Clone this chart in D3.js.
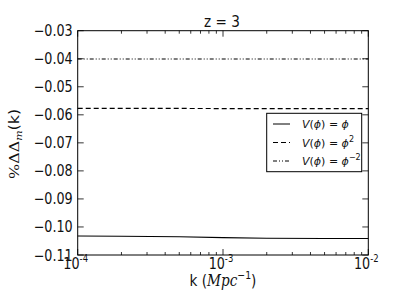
<!DOCTYPE html>
<html>
<head>
<meta charset="utf-8">
<script src="https://cdn.jsdelivr.net/npm/d3@7"></script>
<style>
  body { margin: 0; background: #fff; }
  text { font-family: "DejaVu Sans", sans-serif; fill: #111; }
  .math { font-family: "DejaVu Serif", "Liberation Serif", serif; font-style: italic; }
</style>
</head>
<body>
<svg id="chart" width="409" height="307"></svg>
<script>
  "use strict";
  // data
  var kValues = [1e-4, 2e-4, 5e-4, 1e-3, 2e-3, 5e-3, 1e-2];
  var linearVals = [-0.1032, -0.1033, -0.1035, -0.1038, -0.1040, -0.1041, -0.1041];
  var quadVals = [-0.0577, -0.0577, -0.0577, -0.0578, -0.0578, -0.0578, -0.0578];
  var invQuadVals = [-0.0401, -0.0401, -0.0401, -0.0401, -0.0401, -0.0401, -0.0401];
  var yTicks = [-0.03, -0.04, -0.05, -0.06, -0.07, -0.08, -0.09, -0.10, -0.11];
  var xTicks = [1e-4, 1e-3, 1e-2];
  var xExp = ["-4", "-3", "-2"];

  var series = [
    { vals: linearVals, dash: null, label: "\u03D5", sup: "" },
    { vals: quadVals, dash: "5,3", label: "\u03D5", sup: "2" },
    { vals: invQuadVals, dash: "4,2,1,2,1,2", label: "\u03D5", sup: "\u22122" }
  ];

  var pLeft = 77.7, pRight = 368.3, pTop = 30.7, pBottom = 255;
  var squash = 0.85; // the reference text is narrower than it is tall
  var svg = d3.select("#chart");

  var x = d3.scaleLog().domain([1e-4, 1e-2]).range([pLeft, pRight]);
  var y = d3.scaleLinear().domain([-0.11, -0.03]).range([pBottom, pTop]);

  function label(px, py) {
    return svg.append("text")
      .attr("transform", "translate(" + px + "," + py + ") scale(" + squash + ",1)");
  }

  // frame
  svg.append("rect")
    .attr("x", pLeft).attr("y", pTop)
    .attr("width", pRight - pLeft).attr("height", pBottom - pTop)
    .attr("fill", "none").attr("stroke", "#000").attr("stroke-width", 1);

  // ticks inside, all four sides
  var minor = [];
  [1e-4, 1e-3].forEach(function (d) {
    for (var i = 2; i < 10; i++) minor.push(d * i);
  });
  var tk = svg.append("g").attr("stroke", "#000").attr("stroke-width", 0.8);
  xTicks.forEach(function (d) {
    tk.append("line").attr("x1", x(d)).attr("x2", x(d)).attr("y1", pBottom).attr("y2", pBottom - 6);
    tk.append("line").attr("x1", x(d)).attr("x2", x(d)).attr("y1", pTop).attr("y2", pTop + 6);
  });
  minor.forEach(function (d) {
    tk.append("line").attr("x1", x(d)).attr("x2", x(d)).attr("y1", pBottom).attr("y2", pBottom - 3);
    tk.append("line").attr("x1", x(d)).attr("x2", x(d)).attr("y1", pTop).attr("y2", pTop + 3);
  });
  yTicks.forEach(function (d) {
    tk.append("line").attr("x1", pLeft).attr("x2", pLeft + 6).attr("y1", y(d)).attr("y2", y(d));
    tk.append("line").attr("x1", pRight).attr("x2", pRight - 6).attr("y1", y(d)).attr("y2", y(d));
  });

  // y tick labels
  yTicks.forEach(function (d) {
    label(pLeft - 5, y(d) + 5.5)
      .attr("text-anchor", "end")
      .attr("font-size", 15)
      .text("\u2212" + Math.abs(d).toFixed(2));
  });

  // x tick labels 10^n
  xTicks.forEach(function (d, i) {
    var t = label(x(d) - 2, 268.5)
      .attr("text-anchor", "middle")
      .attr("font-family", "DejaVu Serif")
      .attr("font-size", 15);
    t.append("tspan").text("10");
    t.append("tspan").attr("dy", -7).attr("font-size", 10).text(xExp[i]);
  });

  // lines
  var line = d3.line()
    .x(function (d, i) { return x(kValues[i]); })
    .y(function (d) { return y(d); });
  series.forEach(function (s) {
    svg.append("path")
      .datum(s.vals)
      .attr("d", line)
      .attr("fill", "none")
      .attr("stroke", "#000")
      .attr("stroke-width", 1.1)
      .attr("stroke-dasharray", s.dash);
  });

  // title
  label(222, 27.3).attr("text-anchor", "middle").attr("font-size", 16).text("z = 3");

  // x label
  var xl = label(223, 285.5).attr("text-anchor", "middle").attr("font-size", 16);
  xl.append("tspan").text("k (");
  xl.append("tspan").attr("class", "math").text("Mpc");
  xl.append("tspan").attr("dy", -7).attr("font-size", 11).text("\u22121");
  xl.append("tspan").attr("dy", 7).text(")");

  // y label
  var yl = svg.append("text")
    .attr("transform", "translate(19," + ((pTop + pBottom) / 2 + 1) + ") rotate(-90) scale(1," + squash + ")")
    .attr("text-anchor", "middle").attr("font-size", 16).attr("fill", "#222");
  yl.append("tspan").attr("font-family", "DejaVu Serif").text("%\u0394\u0394");
  yl.append("tspan").attr("class", "math").attr("dy", 3).attr("font-size", 11).text("m");
  yl.append("tspan").attr("dy", -3).text("(k)");

  // legend
  var lg = svg.append("g");
  lg.append("rect").attr("x", 266.7).attr("y", 113.3).attr("width", 95).attr("height", 58.4)
    .attr("fill", "#fff").attr("stroke", "#000").attr("stroke-width", 1);
  series.forEach(function (s, i) {
    var yy = 124 + i * 18.5;
    lg.append("line").attr("x1", 273).attr("x2", 290).attr("y1", yy).attr("y2", yy)
      .attr("stroke", "#000").attr("stroke-width", 1).attr("stroke-dasharray", s.dash);
    var t = lg.append("text").attr("x", 302).attr("y", yy + 4)
      .attr("font-size", 11).attr("font-family", "DejaVu Serif");
    t.append("tspan").attr("font-style", "italic").text("V");
    t.append("tspan").text("(");
    t.append("tspan").attr("font-style", "italic").text("\u03D5");
    t.append("tspan").text(") = ");
    t.append("tspan").attr("font-style", "italic").text(s.label);
    if (s.sup) t.append("tspan").attr("dy", -5).attr("font-size", 8).text(s.sup);
  });
</script>
</body>
</html>
